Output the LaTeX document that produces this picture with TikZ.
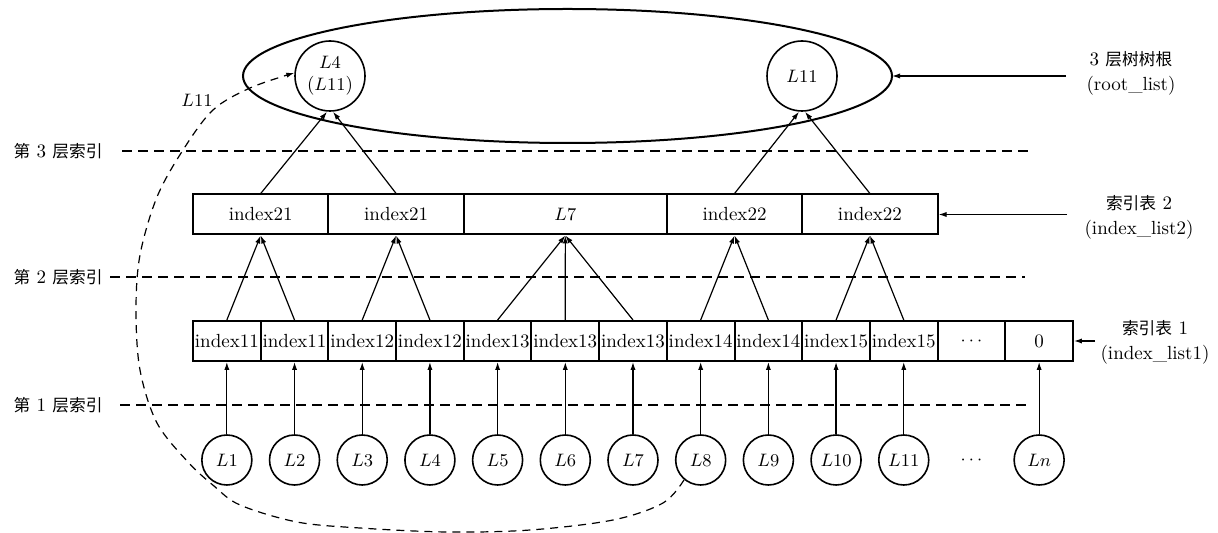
\documentclass[tikz,border=0pt]{standalone}
\usepackage{fontspec}
\newfontfamily\cjk[Scale=0.88]{Noto Sans CJK SC}
\usetikzlibrary{arrows.meta,calc}

\begin{document}
\begin{tikzpicture}[x=0.5pt,y=-0.5pt,
  font=\fontsize{9.5}{12.5}\selectfont,
  cell/.style={draw,line width=1pt,minimum width=#1,minimum height=20pt,inner sep=0pt},
  cell/.default=33.85pt,
  leaf/.style={circle,draw,line width=0.8pt,minimum size=25pt,inner sep=0pt},
  rootc/.style={circle,draw,line width=0.8pt,minimum size=35pt,inner sep=0pt,align=center,font=\fontsize{9.5}{11}\selectfont},
  arr/.style={-{Latex[length=4pt,width=2.6pt]},line width=0.6pt},
  level/.style={line width=0.8pt,dash pattern=on 5pt off 3pt},
  loopline/.style={line width=0.6pt,dash pattern=on 4pt off 3pt},
  sidelabel/.style={align=center,inner sep=0pt},
]
\useasboundingbox (0,0) rectangle (1218,533);

% root container
\draw[line width=1pt] (567.5,76) ellipse [x radius=324.5, y radius=67];
\coordinate (tip) at (892,76);

% root nodes
\node[rootc] (r1) at (330,76) {$L4$\\($L11$)};
\node[rootc] (r2) at (802,76) {$L11$};

% level separators
\node[sidelabel,anchor=east] (t3) at (103,151) {{\cjk 第} 3 {\cjk 层索引}};
\node[sidelabel,anchor=east] (t2) at (103,277) {{\cjk 第} 2 {\cjk 层索引}};
\node[sidelabel,anchor=east] (t1) at (103,405) {{\cjk 第} 1 {\cjk 层索引}};
\draw[level] (122,151) -- (1028,151);
\draw[level] (110,277) -- (1025,277);
\draw[level] (120,405) -- (1028,405);

% index list 2
\node[cell=67.7pt]   (m1) at (260.7,214.5) {index21};
\node[cell=67.7pt]   (m2) at (396.1,214.5) {index21};
\node[cell=101.55pt] (m3) at (565.35,214.5) {$L7$};
\node[cell=67.7pt]   (m4) at (734.55,214.5) {index22};
\node[cell=67.7pt]   (m5) at (869.9,214.5) {index22};

% index list 1
\foreach \i/\t in {1/index11,2/index11,3/index12,4/index12,5/index13,6/index13,
                   7/index13,8/index14,9/index14,10/index15,11/index15,12/{$\cdots$},13/0}
  \node[cell] (c\i) at ({193+67.69*(\i-0.5)},341) {\t};

% leaves
\foreach \i in {1,...,11}
  \node[leaf] (n\i) at ({193+67.69*(\i-0.5)},460) {$L\i$};
\node (n12) at ({193+67.69*11.5},460) {$\cdots$};
\node[leaf] (n13) at ({193+67.69*12.5},460) {$Ln$};

% leaves -> index list 1
\foreach \i in {1,...,11,13}
  \draw[arr] (n\i.north) -- (c\i.south);

% index list 1 -> index list 2
\foreach \i/\j in {1/1,2/1,3/2,4/2,5/3,6/3,7/3,8/4,9/4,10/5,11/5}
  \draw[arr] (c\i.north) -- (m\j.south);

% index list 2 -> roots
\draw[arr] (m1.north) -- ($(r1.south)+(-3,0)$);
\draw[arr] (m2.north) -- ($(r1.south)+(3,0)$);
\draw[arr] (m4.north) -- ($(r2.south)+(-3,0)$);
\draw[arr] (m5.north) -- ($(r2.south)+(3,0)$);

% side labels
\node[sidelabel] (rl3) at (1131,73) {3 {\cjk 层树树根}\\(root\_list)};
\node[sidelabel] (rl2) at (1139,217) {{\cjk 索引表} 2\\(index\_list2)};
\node[sidelabel] (rl1) at (1155,342) {{\cjk 索引表} 1\\(index\_list1)};
\draw[arr] ($(rl3.west |- tip)+(-20,0)$) -- (tip);
\draw[arr] ($(rl2.west |- m5.east)+(-17,0)$) -- (m5.east);
\draw[arr] ($(rl1.west |- c13.east)+(-5,0)$) -- (c13.east);

% chain from L8 through L1 back up to the root
\draw[arr,loopline] plot[smooth,tension=0.55] coordinates {
  (n8.-130) (663,503) (613,520) (530,530) (447,532) (360,528) (297,522)
  (240,505) (214,486) (188,462) (157,423) (140,370) (136,310) (140,255)
  (157,197) (183,150) (213,110) (250,88) (r1.175)};
\node (lab) at (197,100) {$L11$};
\end{tikzpicture}
\end{document}
